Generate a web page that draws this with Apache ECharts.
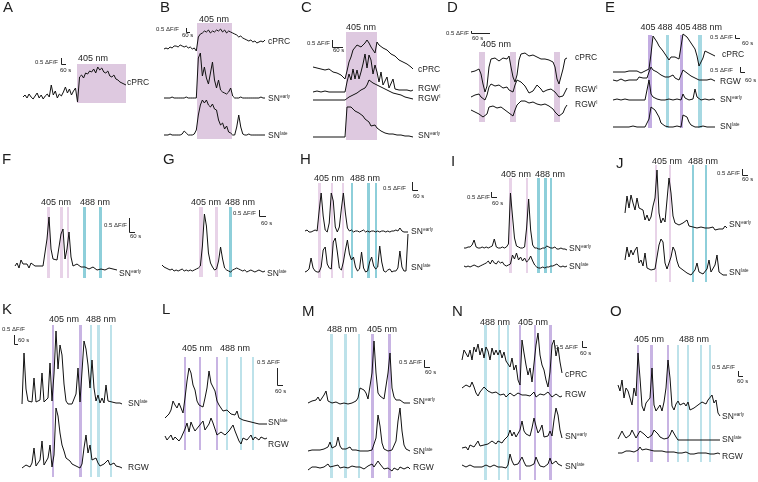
<!DOCTYPE html>
<html><head><meta charset="utf-8">
<script src="https://cdn.jsdelivr.net/npm/echarts@6/dist/echarts.min.js"></script>
<style>html,body{margin:0;padding:0;background:#fff}#c{width:758px;height:482px}</style>
</head><body><div id="c"></div>
<script>
const A_cPRC = [0,2,-1,3,0,-2,1,4,-1,2,-2,1,3,0,12,2,6,-1,3,1,5,10,4,8,2,6,9,-5,20,22,19,24,23,26,25,28,24,30,27,29,25,24,26,21,20,22,18,17,15,14,13,12];
const B_cPRC = [0,1,0,2,1,3,3,2,4,3,2,3,1,2,0,1,-2,12,15,16,18,17,19,16,18,17,19,18,20,17,19,16,18,17,16,15,14,12,13,11,10,9,8,9,7,8,6,7,8,7,9];
const B_SNe = [0,0,0,0,1,0,0,0,0,0,0,1,0,0,0,0,0,40,45,22,31,20,14,25,36,18,10,18,8,6,5,4,6,10,2,0,0,0,1,0,0,0,0,0,0,0,0,0,1,0,0];
const B_SNl = [0,0,0,1,0,0,0,0,0,1,4,2,0,0,0,1,5,20,30,35,32,35,30,28,31,26,25,15,10,12,6,9,3,2,0,0,8,20,8,1,0,0,1,0,0,0,0,0,0,0,0];
const C_cPRC = [0,1,-1,-1,-2,-1,-3,-3,-2,-4,-5,-4,-6,-7,-8,-9,-12,-4,5,10,17,18,22,21,20,22,24,27,24,20,18,14,25,22,20,19,18,17,15,13,12,11,9,7,6,5,3,3,1,0,-2];
const C_RGW1 = [0,0,1,0,0,0,1,0,0,0,0,1,0,0,0,0,0,10,18,12,23,13,22,13,20,28,38,24,37,32,18,27,20,10,20,7,5,15,4,3,13,3,2,2,1,2,1,2,2,1,2];
const C_RGW2 = [0,0,0,0,0,0,0,0,0,0,0,0,0,0,0,0,0,2,3,4,5,6,7,9,10,11,12,15,20,18,17,16,15,14,13,12,11,10,9,8,7,7,6,5,5,4,3,3,2,1,1];
const C_SNe = [0,0,0,0,0,0,0,0,0,0,0,0,0,0,0,0,0,30,31,30,28,26,25,24,22,21,18,17,15,11,12,12,9,8,6,5,4,4,3,3,3,2,2,2,2,1,1,1,1,1,0];
const D_cPRC = [0,-2,1,2,3,-2,-12,-20,-14,5,13,12,14,15,11,13,14,12,13,16,5,-5,-10,-3,12,18,20,19,18,16,17,17,15,15,14,13,12,13,14,12,11,10,5,-7,-12,-11,3,13,14];
const D_RGW1 = [0,1,2,3,3,0,-2,-3,2,10,13,12,11,10,12,13,9,10,10,7,5,5,12,17,16,15,13,11,9,4,2,6,9,12,10,8,5,6,7,7,8,8,5,3,0,-1,1,5,9];
const D_RGW2 = [2,1,0,-1,-2,-3,-5,-6,-2,5,7,6,5,4,6,5,3,2,1,-1,-2,-4,2,7,9,11,12,11,10,9,9,10,9,8,8,7,9,8,7,6,5,3,0,-2,-4,-5,-1,4,7];
const E_cPRC = [0,1,0,-1,0,1,0,0,1,2,1,0,1,0,-1,0,1,0,3,18,36,35,30,26,24,21,18,15,12,15,16,15,14,13,14,38,39,35,32,29,26,23,16,6,4,14,21,20,19,18,17,16];
const E_RGW = [0,1,-1,0,1,0,-1,1,0,1,0,-1,0,3,1,2,4,2,8,13,10,9,8,6,5,4,3,2,3,4,5,2,1,0,1,10,9,7,6,4,3,2,1,0,1,0,1,0,-1,1,0,-1];
const E_SNe = [0,0,1,0,0,0,1,0,0,0,0,1,0,0,0,1,0,0,20,6,3,2,1,1,0,1,0,0,1,0,0,0,1,0,0,6,2,1,0,0,1,11,3,1,0,0,1,0,0,0,1,0];
const E_SNl = [0,0,0,1,0,0,0,0,0,0,1,0,0,0,0,0,0,0,8,20,19,17,15,10,4,2,1,1,0,0,0,0,1,0,0,12,11,10,5,2,1,0,0,0,0,1,2,0,0,0,0,0];
const F_SNe = [3,6,1,9,5,3,5,1,6,4,3,1,3,2,3,4,30,52,20,10,8,9,8,35,40,10,20,37,12,3,4,5,3,2,1,2,1,0,1,2,0,-1,1,0,1,-1,0,1,-1,0,1,-1];
const G_SNl = [6,4,3,2,1,2,0,1,0,1,2,0,1,0,1,0,1,2,3,5,25,57,45,18,8,4,1,2,10,24,12,3,1,0,-1,1,2,3,2,1,0,1,-1,0,1,0,-1,0,1,0,-1,0];
const H_SNe = [0,1,-1,-1,0,1,0,20,38,15,1,-1,8,38,30,4,-1,4,22,38,18,3,0,1,-1,0,0,-1,0,1,-1,0,-1,0,0,-1,0,-1,0,0,-1,0,-1,0,0,1,0,3,0,-1,-1,-1];
const H_SNl = [0,1,3,14,4,1,0,0,5,22,25,8,4,3,30,34,20,4,2,10,22,32,18,12,15,5,1,3,20,4,0,1,10,15,6,3,5,26,10,1,0,2,3,0,1,1,4,21,5,1,1,38];
const I_SNe = [0,0,1,1,3,8,1,0,0,1,0,1,0,1,2,9,1,0,0,1,0,1,4,55,32,10,2,1,0,0,1,20,49,18,3,0,0,-1,-1,0,0,2,1,0,0,1,-1,-1,0,-1,-1,-2];
const I_SNl = [1,0,1,0,1,2,1,0,1,2,3,4,6,3,7,4,3,6,4,5,2,1,2,3,12,8,14,7,10,6,9,5,7,11,6,2,0,-1,-1,0,-1,0,0,1,1,2,3,1,0,1,0,1];
const J_SNe = [15,32,20,33,25,18,30,20,22,18,8,13,7,11,22,30,58,15,5,10,6,8,50,35,12,5,4,3,4,5,4,8,2,1,1,0,0,-1,1,1,0,-1,0,-1,1,-2,-1,-1,-2,-1,2,0];
const J_SNl = [15,28,18,25,20,25,28,12,15,9,22,7,5,5,4,6,8,30,36,33,12,6,8,18,28,24,14,8,10,5,3,2,1,0,1,5,12,3,1,1,3,6,15,3,1,10,20,3,1,0,0,0];
const K_SNl = [0,51,15,3,1,2,26,2,1,4,31,2,1,6,41,3,30,73,35,59,49,20,3,0,1,0,1,10,36,2,4,63,55,39,16,44,16,3,9,1,6,1,19,3,1,2,3,1,2,1,0];
const K_RGW = [0,2,3,2,1,5,20,2,3,8,27,3,2,10,23,1,13,60,52,35,23,17,10,12,7,4,3,2,1,0,4,20,33,15,23,8,6,10,5,2,3,4,6,8,3,4,5,2,3,1,0];
const L_SNl = [5,7,9,13,22,18,15,20,15,10,25,42,55,50,38,33,22,18,20,16,25,35,52,40,38,32,22,18,17,12,14,13,11,9,7,8,12,5,4,3,2,2,1,1,0,0,0,-1,0,-1,-1,-1];
const L_RGW = [2,-2,-4,3,-2,1,2,-3,0,1,9,15,6,16,11,7,9,12,10,17,8,6,14,20,15,9,3,1,6,4,3,2,7,10,13,7,5,-3,-6,0,2,-2,-3,3,-2,1,2,-2,1,2,-1,0];
const M_SNe = [0,1,2,4,3,6,2,4,8,12,2,1,0,0,1,0,-1,0,0,1,-1,-2,0,0,2,5,15,14,13,10,4,2,30,62,30,10,7,5,4,3,30,50,15,6,3,2,3,2,0,1,0,0];
const M_SNl = [0,0,1,1,1,2,1,2,2,3,4,9,3,2,5,14,5,2,2,2,3,4,1,1,1,0,0,0,0,1,0,0,1,3,13,36,25,8,2,1,0,0,1,2,10,30,43,20,6,2,1,0];
const M_RGW = [-2,0,1,2,1,3,0,2,1,3,4,1,0,2,1,3,0,-1,1,2,0,1,2,0,1,2,1,0,-1,1,2,3,4,1,3,7,4,2,-1,-2,0,-2,-3,0,-1,-2,1,0,-1,0,1,-1];
const N_cPRC = [-5,5,7,-2,5,-5,8,3,11,0,7,-3,8,4,-5,7,0,5,0,5,-3,3,-6,-4,-12,-3,-15,-10,-25,-30,15,2,-10,-20,-13,-27,-28,10,22,0,-10,-15,-25,-32,-17,10,15,-1,8,-7,-18];
const N_RGW = [7,9,10,12,8,13,8,2,-1,3,5,8,6,4,3,2,2,3,1,0,2,1,-2,0,2,0,-1,1,2,4,0,1,0,-1,-1,1,3,-2,0,1,-1,0,1,3,4,-2,0,1,2,-2,-1];
const N_SNe = [0,2,1,-2,3,4,1,3,7,2,4,3,2,4,4,7,8,4,7,5,5,8,10,12,18,12,16,11,10,18,27,17,14,15,12,20,30,22,15,18,23,11,13,12,17,12,28,40,33,18,10];
const N_SNl = [2,1,0,1,2,1,0,-1,0,1,0,1,2,1,0,1,2,3,0,1,0,1,-1,2,13,6,2,1,3,5,10,5,1,0,1,0,3,10,5,1,0,0,1,3,9,3,4,6,3,1,1];
const O_SNe = [23,17,28,10,20,17,18,3,20,12,55,30,2,-3,5,4,10,40,3,-3,0,3,-3,6,20,48,30,2,-2,4,7,3,2,5,2,6,-2,-3,0,-1,3,5,6,5,4,8,10,13,5,8,-5,-8];
const O_SNl = [1,5,9,5,2,3,5,10,6,2,3,9,11,6,4,2,2,5,10,11,6,3,2,1,1,2,5,10,8,3,0,0,0,0,0,0,0,0,0,0,0,0,0,0,0,0,0,0,0,0,0,0];
const O_RGW = [0,1,0,1,2,1,2,0,1,2,3,6,3,2,4,2,3,5,2,3,2,3,2,1,1,2,1,2,1,0,0,1,0,0,1,0,-1,0,-1,-1,0,-1,0,-1,0,-1,-1,0,-1,-1,0,-1];

// ---------- stimulation windows (start, end in frames from trace start; p = 405 nm, c = 488 nm) ----------
const A_stim = [[54,103,'p']];
const B_stim = [[33,68,'p']];
const C_stim = [[33,64,'p']];
const D_stim = [[8,14,'p'],[39,45,'p'],[83,89,'p']];
const E_stim = [[35,39,'p'],[53,56,'c'],[67,70,'p'],[85,89,'c']];
const F_stim = [[32,35,'p'],[45,48,'p'],[52,54,'p'],[68,71,'c'],[84,87,'c']];
const G_stim = [[37,41,'p'],[53,56,'p'],[67,70,'c']];
const H_stim = [[13,16,'p'],[26,28,'p'],[37,39,'p'],[46,48,'c'],[62,65,'c'],[70,72,'c']];
const I_stim = [[45,48,'p'],[62,64,'p'],[73,76,'c'],[80,83,'c'],[86,88,'c']];
const J_stim = [[30,32,'p'],[44,46,'p'],[67,69,'c'],[80,82,'c']];
const K_stim = [[30,32,'p'],[57,60,'p'],[68,70,'c'],[75,78,'c'],[88,90,'c']];
const L_stim = [[19,21,'p'],[34,36,'p'],[51,53,'p'],[61,63,'c'],[75,77,'c'],[87,89,'c']];
const M_stim = [[22,25,'c'],[36,39,'c'],[50,52,'c'],[63,66,'p'],[80,83,'p']];
const N_stim = [[22,25,'c'],[36,38,'c'],[45,47,'c'],[57,59,'p'],[72,74,'p'],[87,90,'p']];
const O_stim = [[19,21,'p'],[32,35,'p'],[49,51,'p'],[59,61,'c'],[69,71,'c'],[82,84,'c'],[91,93,'c']];

// ---------- layout (pixels) ----------
const PAL = {
  a:{p:'#dec9e0', c:'#a8d9e3'},
  e:{p:'#c3ade2', c:'#a6d8e2'},
  f:{p:'#e8d3e8', c:'#8ecfda'},
  k:{p:'#c8b4e3', c:'#bde2ea'}
};
const panels = [
 {x0:23,x1:126,band:[64,103],pal:'a',stim:A_stim,tr:[[A_cPRC,97]]},
 {x0:164,x1:265,band:[23,139],pal:'a',stim:B_stim,tr:[[B_cPRC,49],[B_SNe,98],[B_SNl,135]]},
 {x0:313,x1:413,band:[32,140],pal:'a',stim:C_stim,tr:[[C_cPRC,67],[C_RGW1,92],[C_RGW2,100],[C_SNe,137]]},
 {x0:471,x1:567,band:[52,122],pal:'a',stim:D_stim,tr:[[D_cPRC,72],[D_RGW1,97],[D_RGW2,112]]},
 {x0:613,x1:715,band:[35,128],pal:'e',stim:E_stim,tr:[[E_cPRC,72],[E_RGW,80],[E_SNe,100],[E_SNl,127]]},
 {x0:15,x1:117,band:[207,278],pal:'f',stim:F_stim,tr:[[F_SNe,269]]},
 {x0:162,x1:265,band:[207,277],pal:'f',stim:G_stim,tr:[[G_SNl,271]]},
 {x0:305,x1:408,band:[183,278],pal:'f',stim:H_stim,tr:[[H_SNe,231],[H_SNl,272]]},
 {x0:464,x1:567,band:[178,273],pal:'f',stim:I_stim,tr:[[I_SNe,248],[I_SNl,267]]},
 {x0:625,x1:727,band:[165,282],pal:'f',stim:J_stim,tr:[[J_SNe,228],[J_SNl,275]]},
 {x0:22,x1:122,band:[325,477],pal:'k',stim:K_stim,tr:[[K_SNl,404],[K_RGW,468]]},
 {x0:165,x1:267,band:[357,450],pal:'k',stim:L_stim,tr:[[L_SNl,423],[L_RGW,438]]},
 {x0:308,x1:410,band:[334,478],pal:'k',stim:M_stim,tr:[[M_SNe,403],[M_SNl,451],[M_RGW,468]]},
 {x0:462,x1:562,band:[325,480],pal:'k',stim:N_stim,tr:[[N_cPRC,355],[N_RGW,395],[N_SNe,448],[N_SNl,467]]},
 {x0:618,x1:720,band:[345,462],pal:'k',stim:O_stim,tr:[[O_SNe,408],[O_SNl,440],[O_RGW,453]]}
];
const letters = [['A',3,8],['B',160,8],['C',301,8],['D',447,8],['E',605,8],['F',2,160],['G',163,160],['H',300,160],['I',451,162],['J',616,164],['K',2,310],['L',162,310],['M',302,312],['N',452,312],['O',610,312]];
const waveLabels = [['405 nm',93,59],['405 nm',214,20],['405 nm',361,28],['405 nm',496,45],
 ['405',648,28],['488',665,28],['405',683,28],['488 nm',707,28],
 ['405 nm',56,203],['488 nm',95,203],['405 nm',206,203],['488 nm',240,203],
 ['405 nm',329,179],['488 nm',365,179],['405 nm',516,175],['488 nm',550,175],
 ['405 nm',667,162],['488 nm',703,162],['405 nm',64,320],['488 nm',101,320],
 ['405 nm',197,349],['488 nm',235,349],['488 nm',342,330],['405 nm',382,330],
 ['488 nm',495,323],['405 nm',533,323],['405 nm',649,340],['488 nm',694,340]];
// scale bars: text right end x, text y, vertical x, y0, y1, horizontal end x, "60 s" x, y
const scaleBars = [[58,62,61,58,64,66,60,70],[179,29,186,28,32,190,182,35],[330,43,332,40,47,343,333,50],
 [469,33,471,31,33,490,472,38],[733,37,735,35,38,740,742,43],[733,70,740,67,72,745,745,80],
 [127,225,129,218,232,135,130,236],[256,213,259,210,216,266,261,223],[406,188,412,182,190,418,413,196],
 [490,197,491,192,197,497,492,203],[740,173,742,169,175,748,742,179],[25,329,14,335,344,18,18,340],
 [280,362,277,368,385,283,275,391],[422,362,424,360,367,430,425,372],[578,347,582,341,347,587,580,353],
 [735,367,738,371,376,743,737,381]];
const traceLabels = [[127,83,'cPRC'],
 [268,42,'cPRC'],[268,99,'SN','early'],[268,136,'SN','late'],
 [418,70,'cPRC'],[418,89,'RGW','I'],[418,99,'RGW','I'],[418,136,'SN','early'],
 [575,58,'cPRC'],[575,90,'RGW','I'],[575,105,'RGW','I'],
 [722,55,'cPRC'],[720,82,'RGW'],[720,100,'SN','early'],[720,127,'SN','late'],
 [119,274,'SN','early'],[267,274,'SN','late'],
 [411,232,'SN','early'],[411,268,'SN','late'],
 [569,249,'SN','early'],[569,267,'SN','late'],
 [729,225,'SN','early'],[729,273,'SN','late'],
 [128,404,'SN','late'],[128,468,'RGW'],
 [268,423,'SN','late'],[268,445,'RGW'],
 [413,402,'SN','early'],[413,452,'SN','late'],[413,468,'RGW'],
 [565,375,'cPRC'],[565,395,'RGW'],[565,437,'SN','early'],[565,467,'SN','late'],
 [722,417,'SN','early'],[722,440,'SN','late'],[722,457,'RGW']];

// ---------- build ----------
const FONT = '"Liberation Sans", Arial, sans-serif';
const H = 482;
const grids = [], xAxes = [], yAxes = [], series = [];
panels.forEach(p => {
  const W = p.x1 - p.x0;
  // stimulation band grid
  grids.push({left:p.x0, top:p.band[0], width:W, height:p.band[1]-p.band[0]});
  const gb = grids.length - 1;
  xAxes.push({gridIndex:gb, type:'value', min:0, max:W, show:false});
  yAxes.push({gridIndex:gb, type:'value', min:0, max:1, show:false});
  series.push({type:'line', xAxisIndex:xAxes.length-1, yAxisIndex:yAxes.length-1,
    data:[[0,0.5],[W,0.5]], symbol:'none', lineStyle:{opacity:0}, silent:true, z:1,
    markArea:{silent:true, label:{show:false},
      data:p.stim.map(b => [{xAxis:b[0], itemStyle:{color:PAL[p.pal][b[2]], opacity:1}}, {xAxis:b[1]}])}});
  // trace grid
  grids.push({left:p.x0, top:0, width:W, height:H});
  const gt = grids.length - 1;
  xAxes.push({gridIndex:gt, type:'value', min:0, max:W, show:false});
  const xi = xAxes.length - 1;
  p.tr.forEach(([vals, base]) => {
    yAxes.push({gridIndex:gt, type:'value', min:base-H, max:base, show:false});
    const n = vals.length;
    series.push({type:'line', xAxisIndex:xi, yAxisIndex:yAxes.length-1,
      data:vals.map((v,i) => [i*W/(n-1), v]), symbol:'none', silent:true, z:3,
      lineStyle:{color:'#111', width:1}});
  });
});

const ctx = document.createElement('canvas').getContext('2d');
function tw(t, s){ ctx.font = s + 'px ' + FONT; return ctx.measureText(t).width; }
function T(x, y, text, size, align, va){
  return {type:'text', silent:true, z:10, style:{x, y, text, font: size+'px '+FONT, fill:'#1e1e1e', align:align||'left', verticalAlign:va||'middle'}};
}
function Ln(pts){ return {type:'polyline', silent:true, z:10, shape:{points:pts}, style:{stroke:'#222', lineWidth:1, fill:null}}; }
const graphic = [];
letters.forEach(([t,x,y]) => graphic.push(T(x, y, t, 15)));
waveLabels.forEach(([t,x,y]) => graphic.push(T(x, y, t, 9, 'center')));
scaleBars.forEach(([tx,ty,vx,y0,y1,hx,sx,sy]) => {
  graphic.push(T(tx, ty, '0.5 ΔF/F', 6, 'right'));
  graphic.push(Ln([[vx+0.5,y0],[vx+0.5,y1+0.5],[hx,y1+0.5]]));
  graphic.push(T(sx, sy, '60 s', 6));
});
traceLabels.forEach(([x,y,m,s]) => {
  graphic.push(T(x, y, m, 8.5));
  if (s) graphic.push(T(x + tw(m, 8.5) + 0.5, y - 2.5, s, 4.5));
});

const chart = echarts.init(document.getElementById('c'), null, {renderer:'canvas'});
chart.setOption({animation:false, backgroundColor:'#fff', grid:grids, xAxis:xAxes, yAxis:yAxes, series, graphic});
</script></body></html>
